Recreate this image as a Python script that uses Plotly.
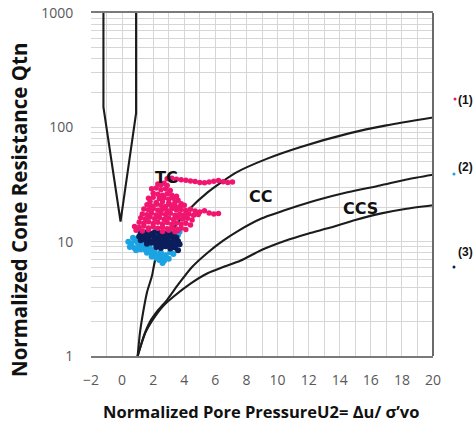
import plotly.graph_objects as go

# ---------------- data ----------------
x_ticks = [-2, 0, 2, 4, 6, 8, 10, 12, 14, 16, 18, 20]
y_tickvals = [1, 10, 100, 1000]
y_ticktext = ["1", "10", "100", "1000"]

# boundary lines of the classification chart
v_x = [-1.2, -1.2, -0.1, 0.9, 0.9]
v_q = [1000, 150, 15, 133, 1000]

tc_cc_x = [1, 1.15, 1.35, 1.6, 1.92, 2.12, 2.6, 3.2, 4.24, 5.5, 7.3, 9.3, 11.44, 14.66, 17, 20]
tc_cc_q = [1, 1.6, 2.4, 3.6, 5.0, 6.8, 9.2, 12.5, 18.7, 27, 40, 53, 67, 89, 104, 122]

cc_ccs_x = [1, 1.4, 1.8, 2.3, 2.9, 3.6, 4.5, 5.5, 6.5, 7.5, 9, 10.8, 12.5, 14.5, 16.6, 18.3, 20]
cc_ccs_q = [1, 1.5, 2.0, 2.5, 3.1, 4.2, 6.0, 8.0, 10.2, 12.5, 16, 19.5, 23, 27, 31, 35, 38.5]

ccs_x = [1, 1.5, 2.0, 2.6, 3.3, 4.4, 5.5, 6.5, 7.6, 9, 10.5, 12, 13.4, 15, 16.6, 18.2, 20]
ccs_q = [1, 1.6, 2.1, 2.7, 3.3, 4.3, 5.3, 6.0, 6.8, 8.5, 10.2, 11.8, 13.3, 15.5, 17.6, 19.3, 20.8]

# series (1) pink
s1_x = [2.9, 3.2, 3.5, 3.8, 4.1, 4.4, 4.7, 5.0, 5.3, 5.6, 5.9, 6.2, 6.5, 6.8, 7.1,
        2.3, 2.5, 2.7, 2.9,
        1.9, 2.2, 2.5, 2.8, 3.1, 2.0, 2.3, 2.6, 2.9, 3.2, 3.5, 1.7, 2.0, 2.4, 2.7, 3.0, 3.3, 3.6,
        1.8, 2.2, 2.6, 3.0, 3.4, 3.8,
        1.6, 1.9, 2.2, 2.5, 2.8, 3.1, 3.4, 3.7, 4.0,
        1.4, 1.7, 2.0, 2.3, 2.6, 2.9, 3.2, 3.5, 3.8, 4.1, 4.4,
        4.7, 5.0, 5.3, 5.6, 5.9, 6.2, 4.6, 4.9,
        1.3, 1.6, 1.9, 2.2, 2.5, 2.8, 3.1, 3.4, 3.7, 4.0, 4.3,
        1.2, 1.5, 1.8, 2.1, 2.4, 2.7, 3.0, 3.3, 3.6, 3.9, 4.2, 4.5,
        1.1, 1.4, 1.7, 2.0, 2.3, 2.6, 2.9, 3.2, 3.5, 3.8, 4.1, 4.4,
        0.8, 1.1, 1.4, 1.7, 2.0, 2.3, 2.6, 2.9, 3.2, 3.5, 3.8, 4.1,
        0.9, 1.3, 1.7, 2.6, 3.0, 3.4, 3.6]
s1_q = [35.5, 35.8, 35.2, 34.8, 34.5, 34.0, 33.6, 33.0, 32.8, 33.2, 33.8, 34.3, 33.5, 33.0, 33.2,
        32, 31.5, 32.5, 31,
        29, 29.5, 28.5, 29, 28, 26.5, 26, 25.5, 26.2, 25.5, 25, 24, 24.5, 23.8, 24.2, 23.5, 24, 23,
        22.5, 22, 22.3, 21.8, 22, 21.5,
        21, 20.5, 21.2, 20.8, 20.3, 21, 20.5, 20.2, 20.8,
        19.3, 19, 19.5, 18.8, 19.2, 18.6, 19.4, 18.9, 19.1, 18.7, 19.2,
        18.5, 18.2, 18.6, 17.8, 17.5, 17.6, 17, 17.3,
        17.5, 17.2, 17.8, 17.1, 17.6, 17.3, 17.7, 17.0, 17.4, 17.2, 17.5,
        16.2, 15.8, 16.4, 15.9, 16.3, 15.7, 16.1, 15.6, 16.2, 15.8, 16.0, 15.5,
        14.8, 14.5, 14.9, 14.4, 14.8, 14.3, 14.7, 14.2, 14.6, 14.3, 14.5, 14.0,
        13.6, 13.3, 13.7, 13.2, 13.5, 13.1, 13.4, 13.0, 13.3, 12.9, 13.2, 12.8,
        12.6, 12.4, 12.7, 12.3, 12.6, 12.2, 12.5]

# series (3) navy
s3_x = [1.2, 1.5, 1.8, 2.1, 2.4, 2.7, 3.0, 3.3,
        1.1, 1.4, 1.7, 2.0, 2.3, 2.6, 2.9, 3.2, 3.5,
        1.2, 1.5, 1.8, 2.1, 2.4, 2.7, 3.0, 3.3, 3.6,
        1.6, 1.9, 2.2, 2.5, 2.8, 3.1, 3.4, 3.7,
        2.2, 2.5, 2.8, 3.1, 3.4, 3.6]
s3_q = [11.9, 12.0, 11.8, 12.1, 11.9, 11.7, 12.0, 11.6,
        11.1, 11.3, 10.9, 11.2, 10.9, 11.2, 10.8, 11.1, 10.8,
        10.3, 10.4, 10.1, 10.5, 10.2, 10.4, 10.0, 10.3, 10.1,
        9.6, 9.8, 9.5, 9.7, 9.4, 9.6, 9.3, 9.5,
        9.0, 8.8, 9.1, 8.7, 8.9, 8.4]

# series (2) light blue
s2_x = [3.2, 3.5, 3.3, 3.6, 3.7,
        0.4, 0.6, 0.8, 1.0, 0.5, 0.8, 1.1, 1.3, 0.9, 1.2, 1.0, 0.7,
        1.5, 1.8, 2.1, 1.6, 1.9, 2.2, 2.5, 1.9, 2.2, 2.5, 2.8, 2.4, 2.7, 3.0, 2.6,
        1.4, 1.7, 3.1, 3.3]
s2_q = [12.5, 12.8, 11.8, 11.5, 12.2,
        10.0, 9.6, 10.3, 9.8, 9.0, 8.8, 9.3, 9.0, 8.4, 8.6, 10.6, 10.8,
        8.5, 8.7, 8.3, 8.0, 7.9, 7.7, 8.0, 7.4, 7.2, 7.3, 7.6, 6.9, 6.8, 7.1, 6.5,
        9.4, 9.2, 8.1, 7.8]

# ---------------- figure ----------------
W, H = 476, 423
PL, PR, PT, PB = 91, 433, 13, 356  # plot box in page pixels
ML, MT, MR, MB = PL, PT, W - PR, H - PB
PW, PH = PR - PL, PB - PT


def px(xp):
    return (xp - PL) / PW


def py(yp):
    return (PB - yp) / PH


line_style = dict(color="#1c1c1c", width=2.1)
fig = go.Figure()
fig.add_trace(go.Scatter(x=v_x, y=v_q, mode="lines", line=line_style, showlegend=False, hoverinfo="skip"))
for xs, qs in [(tc_cc_x, tc_cc_q), (cc_ccs_x, cc_ccs_q), (ccs_x, ccs_q)]:
    fig.add_trace(go.Scatter(x=xs, y=qs, mode="lines", line=dict(line_style, shape="spline", smoothing=0.6),
                             showlegend=False, hoverinfo="skip"))

fig.add_trace(go.Scatter(x=s2_x, y=s2_q, mode="markers", marker=dict(size=6, color="#1BA3E3"), showlegend=False))
fig.add_trace(go.Scatter(x=s3_x, y=s3_q, mode="markers", marker=dict(size=6, color="#0B1E5B"), showlegend=False))
fig.add_trace(go.Scatter(x=s1_x, y=s1_q, mode="markers", marker=dict(size=5.5, color="#F0166F"), showlegend=False))

grid = "#d6d6d6"
tickfont = dict(family="Open Sans", size=14, color="#595959")
fig.update_xaxes(range=[-2, 20], tickmode="array", tickvals=x_ticks, showgrid=True, gridcolor=grid, gridwidth=1,
                 minor=dict(dtick=1, showgrid=True, gridcolor=grid), zeroline=False,
                 showline=True, linecolor="#7a7a7a", linewidth=2, mirror=True,
                 ticks="outside", ticklen=10, tickcolor="rgba(0,0,0,0)", tickfont=tickfont)
minor_y = [m * 10 ** d for d in range(3) for m in range(2, 10)]
fig.update_yaxes(type="log", range=[0, 3], tickmode="array", tickvals=y_tickvals, ticktext=y_ticktext,
                 showgrid=True, gridcolor=grid, gridwidth=1,
                 minor=dict(tickmode="array", tickvals=minor_y, showgrid=True, gridcolor=grid),
                 zeroline=False, showline=False,
                 ticks="outside", ticklen=14, tickcolor="rgba(0,0,0,0)", tickfont=tickfont)

shapes = [dict(type="line", xref="paper", yref="paper", x0=1, x1=1, y0=0, y1=1,
               line=dict(color="#6a6a6a", width=2))]
for cx, cy, col in [(455, 99, "#F0166F"), (454, 174, "#1BA3E3"), (454, 267, "#0B1E5B")]:
    r = 1.5
    shapes.append(dict(type="circle", xref="paper", yref="paper", x0=px(cx - r), x1=px(cx + r),
                       y0=py(cy + r), y1=py(cy - r), fillcolor=col, line=dict(width=0)))

anns = []
lab_font = dict(family="DejaVu Sans", size=16, color="#111111")
for txt, cx, cy in [("TC", 166, 177), ("CC", 260, 196), ("CCS", 360, 208)]:
    anns.append(dict(text="<b>%s</b>" % txt, x=px(cx), y=py(cy), xref="paper", yref="paper",
                     showarrow=False, font=lab_font, xanchor="center", yanchor="middle"))
for txt, cx, cy in [("(1)", 465, 100), ("(2)", 465, 167), ("(3)", 465, 252)]:
    anns.append(dict(text="<b>%s</b>" % txt, x=px(cx), y=py(cy), xref="paper", yref="paper",
                     showarrow=False, font=dict(family="Liberation Sans", size=12, color="#111111"),
                     xanchor="center", yanchor="middle"))
anns.append(dict(text="<b>Normalized Cone Resistance Qtn</b>", x=px(19), y=py(210), xref="paper", yref="paper",
                 showarrow=False, textangle=-90, font=dict(family="Open Sans", size=20.5, color="#111111"),
                 xanchor="center", yanchor="middle"))
anns.append(dict(text="<b>Normalized Pore PressureU2= Δu/ σ’vo</b>", x=px(261), y=py(411), xref="paper",
                 yref="paper", showarrow=False, font=dict(family="Open Sans", size=16.5, color="#111111"),
                 xanchor="center", yanchor="middle"))

fig.update_layout(width=W, height=H, margin=dict(l=ML, r=MR, t=MT, b=MB, autoexpand=False),
                  plot_bgcolor="white", paper_bgcolor="white", shapes=shapes, annotations=anns,
                  showlegend=False)
fig.write_html("out.html", config={"displayModeBar": False},
               post_script="document.body.style.margin='0';document.body.style.overflow='hidden';")
